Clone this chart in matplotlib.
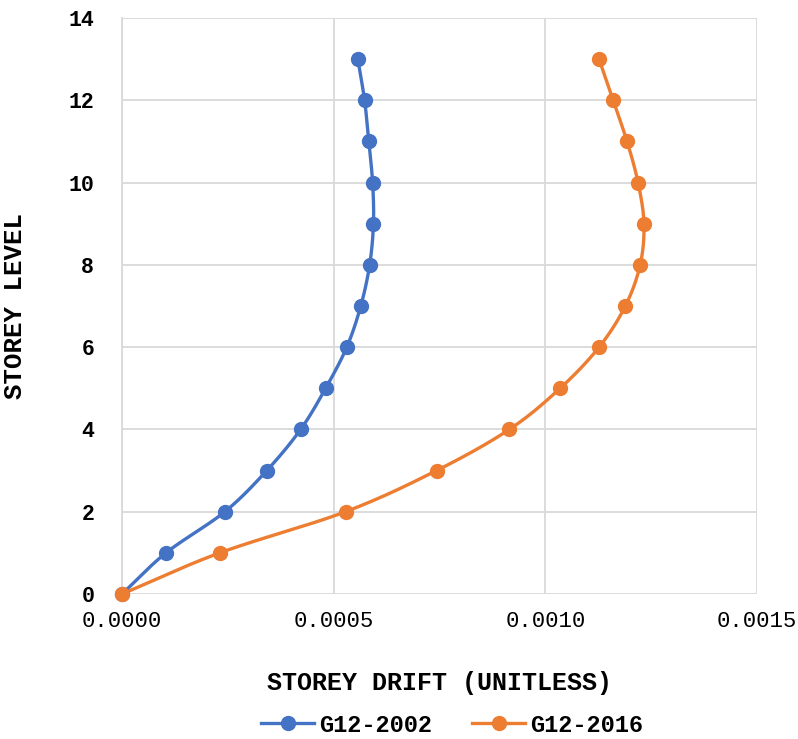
import numpy as np
import matplotlib
matplotlib.use("Agg")
import matplotlib.pyplot as plt
from matplotlib.lines import Line2D

# Storey levels and drift values
levels = [0, 1, 2, 3, 4, 5, 6, 7, 8, 9, 10, 11, 12, 13]
drift_2002 = [0.0, 0.000104, 0.000243, 0.000342, 0.000422, 0.000481, 0.000531,
              0.000564, 0.000585, 0.000594, 0.000592, 0.000583, 0.000573, 0.000557]
drift_2016 = [0.0, 0.000231, 0.000528, 0.000743, 0.000915, 0.001035, 0.001127,
              0.001189, 0.001224, 0.001233, 0.001219, 0.001193, 0.001160, 0.001127]
series_names = ["G12-2002", "G12-2016"]
series_colors = ["#4472C4", "#ED7D31"]

x_ticks = [0.0, 0.0005, 0.0010, 0.0015]
x_tick_labels = ["0.0000", "0.0005", "0.0010", "0.0015"]
y_ticks = [0, 2, 4, 6, 8, 10, 12, 14]

XMAX, YMAX = 0.0015, 14


def smooth(xs, ys, n=30):
    """Catmull-Rom curve through the points, computed in axis-normalised space."""
    px = np.asarray(xs) / XMAX
    py = np.asarray(ys) / YMAX * (580 / 635)
    pts = np.column_stack([px, py])
    pts = np.vstack([pts[0] * 2 - pts[1], pts, pts[-1] * 2 - pts[-2]])
    out = []
    for i in range(1, len(pts) - 2):
        p0, p1, p2, p3 = pts[i - 1], pts[i], pts[i + 1], pts[i + 2]
        t = np.linspace(0, 1, n, endpoint=False)[:, None]
        seg = 0.5 * ((2 * p1) + (-p0 + p2) * t + (2 * p0 - 5 * p1 + 4 * p2 - p3) * t ** 2
                     + (-p0 + 3 * p1 - 3 * p2 + p3) * t ** 3)
        out.append(seg)
    out.append(pts[-2][None, :])
    c = np.vstack(out)
    return c[:, 0] * XMAX, c[:, 1] / (580 / 635) * YMAX


mono = "Liberation Mono"
fig = plt.figure(figsize=(7.98, 7.39), dpi=100)
ax = fig.add_axes([122 / 798, 1 - 594 / 739, (757 - 122) / 798, (594 - 18) / 739])

for vals, name, col in zip([drift_2002, drift_2016], series_names, series_colors):
    sx, sy = smooth(vals, levels)
    ax.plot(sx, sy, color=col, lw=2.4, solid_capstyle="round", zorder=3)
    ax.plot(vals, levels, linestyle="none", marker="o", markersize=10,
            color=col, zorder=4, clip_on=False)

ax.set_xlim(0, XMAX)
ax.set_ylim(0, YMAX)
ax.set_xticks(x_ticks)
ax.set_xticklabels(x_tick_labels, fontfamily=mono, fontsize=16)
ax.set_yticks(y_ticks)
ax.set_yticklabels([str(v) for v in y_ticks], fontfamily=mono, fontsize=15.5,
                   fontweight="bold")
ax.tick_params(length=0)
ax.tick_params(axis="y", pad=20)
ax.tick_params(axis="x", pad=12)
ax.grid(True, color="#d9d9d9", lw=1.3)
ax.set_axisbelow(True)
for s in ax.spines.values():
    s.set_visible(False)
ax.spines["left"].set_visible(True)
ax.spines["left"].set_color("#d9d9d9")
ax.spines["left"].set_linewidth(1.3)

ax.set_xlabel("STOREY DRIFT (UNITLESS)", fontfamily=mono, fontsize=18,
              fontweight="bold", labelpad=28)
ax.set_ylabel("STOREY LEVEL", fontfamily=mono, fontsize=18.5,
              fontweight="bold", labelpad=30)

handles = [Line2D([], [], color=c, lw=2.4, marker="o", markersize=10)
           for c in series_colors]
fig.legend(handles, series_names, loc="center", bbox_to_anchor=(452 / 798, 1 - 725 / 739),
           ncol=2, frameon=False, handlelength=2.25, handletextpad=0.2,
           columnspacing=1.7, prop={"family": mono, "size": 17, "weight": "bold"})

fig.savefig("out.png", dpi=100)
